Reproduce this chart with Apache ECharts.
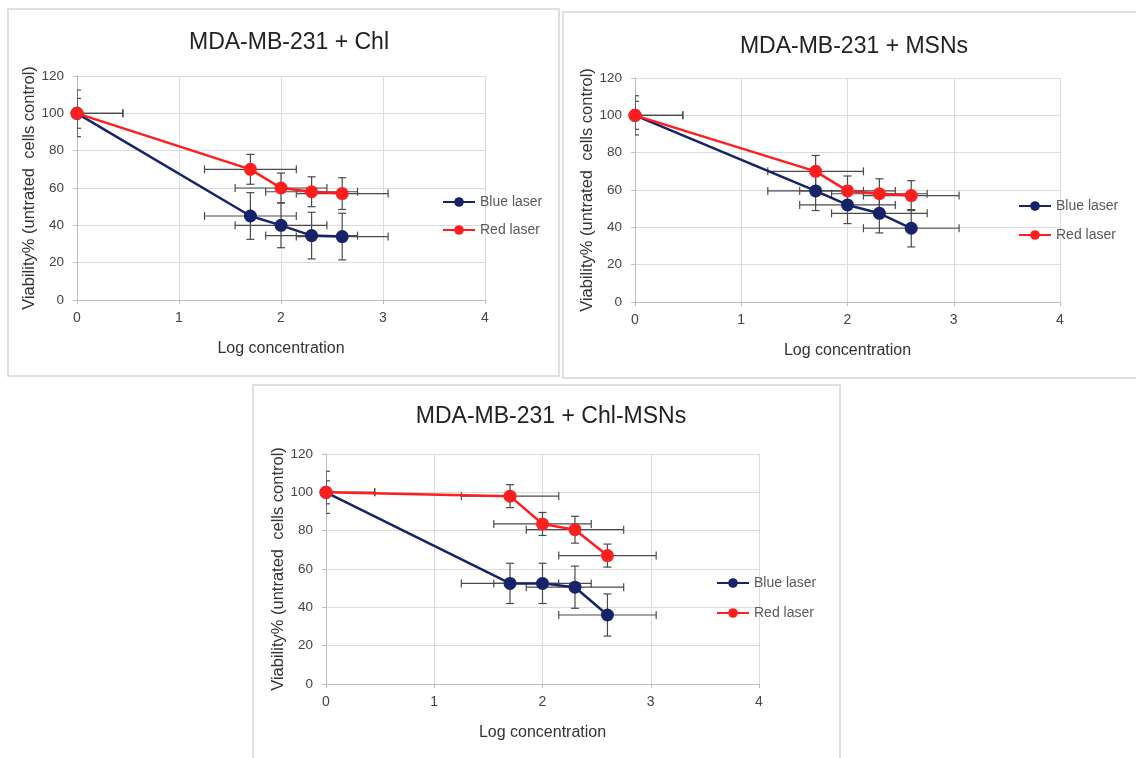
<!DOCTYPE html>
<html>
<head>
<meta charset="utf-8">
<script src="https://cdn.jsdelivr.net/npm/echarts@6/dist/echarts.min.js"></script>
<style>
html,body{margin:0;padding:0;background:#fff;}
#c{width:1136px;height:758px;}
</style>
</head>
<body>
<div id="c"></div>
<script>
// ---- data ----
const xVals = [0, 1.7, 2, 2.3, 2.6];
const xErr = [0.45, 0.45, 0.45, 0.45, 0.45];
const titles = ['MDA-MB-231 + Chl', 'MDA-MB-231 + MSNs', 'MDA-MB-231 + Chl-MSNs'];
const seriesNames = ['Blue laser', 'Red laser'];
const yTicks = [0, 20, 40, 60, 80, 100, 120];
const xTicks = [0, 1, 2, 3, 4];

const chlBlue = [100, 45, 40, 34.5, 34];
const chlBlueErr = [12.5, 12.5, 12, 12.5, 12.5];
const chlRed = [100, 70, 60, 58, 57];
const chlRedErr = [8, 8, 8, 8, 8.5];

const msnBlue = [100, 59.5, 52, 47.5, 39.5];
const msnBlueErr = [10.5, 10.5, 10, 10.5, 10];
const msnRed = [100, 70, 59.5, 58, 57];
const msnRedErr = [7.5, 8.5, 8, 8, 8];

const chlMsnBlue = [100, 52.5, 52.5, 50.5, 36];
const chlMsnBlueErr = [11, 10.5, 10.5, 11, 11];
const chlMsnRed = [100, 98, 83.5, 80.5, 67];
const chlMsnRedErr = [6, 6, 6, 7, 6];

const panels = [
  {blue: chlBlue, blueErr: chlBlueErr, red: chlRed, redErr: chlRedErr},
  {blue: msnBlue, blueErr: msnBlueErr, red: msnRed, redErr: msnRedErr},
  {blue: chlMsnBlue, blueErr: chlMsnBlueErr, red: chlMsnRed, redErr: chlMsnRedErr}
];

// ---- layout ----
const layout = [
  {grid: {left: 77, top: 76, width: 408, height: 224}, box: [8, 9, 551, 367], title: [284, 26], legend: [437, 190, 14]},
  {grid: {left: 635, top: 78, width: 425, height: 224}, box: [563, 12, 580, 366], title: [849, 30], legend: [1013, 194, 15]},
  {grid: {left: 326, top: 454, width: 433, height: 230}, box: [253, 385, 587, 380], title: [546, 400], legend: [711, 571, 16]}
];

const BLUE = '#162369';
const RED = '#ff1e1e';
const ERR = '#4a4a4a';
const FONT = 'Liberation Sans, Arial, sans-serif';

function errRender(params, api) {
  const x = api.value(0), y = api.value(1), xe = api.value(2), ye = api.value(3);
  const top = api.coord([x, y + ye]);
  const bot = api.coord([x, y - ye]);
  const l = api.coord([x - xe, y]);
  const r = api.coord([x + xe, y]);
  const cap = 4;
  const st = {stroke: ERR, lineWidth: 1.2};
  const cs = params.coordSys;
  return {
    type: 'group',
    children: [
      {type: 'line', shape: {x1: top[0], y1: top[1], x2: bot[0], y2: bot[1]}, style: st},
      {type: 'line', shape: {x1: top[0]-cap, y1: top[1], x2: top[0]+cap, y2: top[1]}, style: st},
      {type: 'line', shape: {x1: bot[0]-cap, y1: bot[1], x2: bot[0]+cap, y2: bot[1]}, style: st},
      {type: 'line', shape: {x1: Math.max(l[0], cs.x), y1: l[1], x2: r[0], y2: r[1]}, style: st},
      (l[0] >= cs.x ? {type: 'line', shape: {x1: l[0], y1: l[1]-cap, x2: l[0], y2: l[1]+cap}, style: st} : {type: 'group', children: []}),
      {type: 'line', shape: {x1: r[0], y1: r[1]-cap, x2: r[0], y2: r[1]+cap}, style: st}
    ]
  };
}

const grids = [], xAxes = [], yAxes = [], series = [], titleArr = [], legends = [], graphics = [];

layout.forEach((L, i) => {
  graphics.push({type: 'rect', shape: {x: L.box[0], y: L.box[1], width: L.box[2], height: L.box[3]},
    style: {fill: 'none', stroke: '#d6d6d6', lineWidth: 1.5}, z: -10});
  grids.push(L.grid);
  xAxes.push({
    gridIndex: i, type: 'value', min: xTicks[0], max: xTicks[xTicks.length-1], interval: 1,
    name: 'Log concentration', nameLocation: 'middle', nameGap: 41,
    nameTextStyle: {fontFamily: FONT, fontSize: 16, color: '#333'},
    axisLine: {show: true, onZero: false, lineStyle: {color: '#bdbdbd'}},
    axisTick: {show: true, length: 4, lineStyle: {color: '#bdbdbd'}},
    axisLabel: {fontFamily: FONT, fontSize: 14, color: '#444', margin: 11},
    splitLine: {show: true, lineStyle: {color: '#dcdcdc'}}
  });
  yAxes.push({
    gridIndex: i, type: 'value', min: yTicks[0], max: yTicks[yTicks.length-1], interval: 20,
    name: 'Viability% (untrated  cells control)', nameLocation: 'middle', nameGap: 39, nameRotate: 90,
    nameTextStyle: {fontFamily: FONT, fontSize: 16.5, color: '#333'},
    axisLine: {show: true, lineStyle: {color: '#bdbdbd'}},
    axisTick: {show: true, length: 4, lineStyle: {color: '#bdbdbd'}},
    axisLabel: {fontFamily: FONT, fontSize: 13.5, color: '#444', margin: 13},
    splitLine: {show: true, lineStyle: {color: '#dcdcdc'}}
  });
  titleArr.push({
    text: titles[i], left: L.title[0], top: L.title[1], textAlign: 'center',
    textStyle: {fontFamily: FONT, fontSize: 23, fontWeight: 'normal', color: '#222'}
  });
  legends.push({
    data: seriesNames, orient: 'vertical', left: L.legend[0], top: L.legend[1], itemGap: L.legend[2],
    itemWidth: 32, itemHeight: 12,
    textStyle: {fontFamily: FONT, fontSize: 14, color: '#595959'}
  });
  const P = panels[i];
  [[P.blue, P.blueErr, BLUE, seriesNames[0]], [P.red, P.redErr, RED, seriesNames[1]]].forEach(([vals, errs, col, nm]) => {
    series.push({
      type: 'custom', xAxisIndex: i, yAxisIndex: i, renderItem: errRender, clip: true, silent: true, z: 3,
      data: xVals.map((x, k) => [x, vals[k], xErr[k], errs[k]])
    });
    series.push({
      name: nm, type: 'line', xAxisIndex: i, yAxisIndex: i,
      data: xVals.map((x, k) => [x, vals[k]]),
      symbol: 'circle', symbolSize: 13, z: 4,
      lineStyle: {color: col, width: 2.5}, itemStyle: {color: col}
    });
  });
});

const chart = echarts.init(document.getElementById('c'), null, {renderer: 'canvas'});
chart.setOption({
  backgroundColor: '#fff',
  animation: false,
  title: titleArr,
  legend: legends,
  grid: grids,
  xAxis: xAxes,
  yAxis: yAxes,
  series: series,
  graphic: graphics
});
</script>
</body>
</html>
